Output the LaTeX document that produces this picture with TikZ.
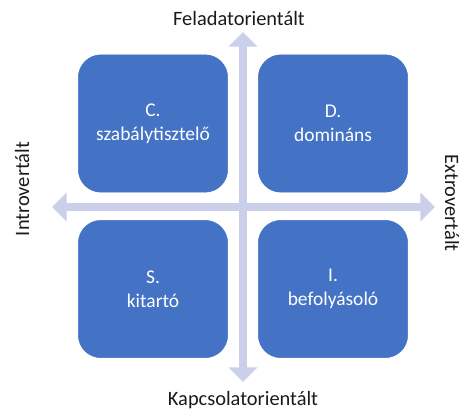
\documentclass[tikz,border=0pt]{standalone}
\usepackage{fontspec}
\setmainfont{Carlito}
\usetikzlibrary{arrows.meta}
\definecolor{quadBlue}{HTML}{4472C4}
\definecolor{axisLilac}{HTML}{CBCFEA}
\definecolor{labelGray}{HTML}{1A1A1A}

\begin{document}
\begin{tikzpicture}[x=0.75pt, y=-0.75pt,
    quadrant/.style={draw=quadBlue, fill=quadBlue, rectangle, rounded corners=17pt, text=white, align=center, font=\fontsize{14.6}{18}\selectfont, minimum width=112pt, minimum height=103pt},
    axisLabel/.style={text=labelGray, font=\fontsize{15.3}{18}\selectfont, inner sep=0pt},
    axisArrow/.style={draw=axisLilac, line width=6pt, {Triangle[width=21pt, length=11pt]}-{Triangle[width=21pt, length=11pt]}},
]
\useasboundingbox (0,0) rectangle (459,412);
\coordinate (north) at (243, 32);
\coordinate (south) at (243, 382);
\coordinate (west) at (52, 207);
\coordinate (east) at (435, 207);
\draw[axisArrow] (south) -- (north);
\draw[axisArrow] (west) -- (east);
\node[quadrant] (cTyp) at (153, 123.5) {C.\\szabálytisztelő};
\node[quadrant] (dTyp) at (333, 123.5) {D.\\domináns};
\node[quadrant] (sTyp) at (153, 289) {S.\\kitartó};
\node[quadrant] (iTyp) at (333, 289) {I.\\befolyásoló};
\node[axisLabel] (task) at (239, 18) {Feladatorientált};
\node[axisLabel] (rel) at (243, 400) {Kapcsolatorientált};
\node[axisLabel, rotate=90] (intro) at (22, 189) {Introvertált};
\node[axisLabel, rotate=-90] (extro) at (452, 203) {Extrovertált};
\end{tikzpicture}
\end{document}
